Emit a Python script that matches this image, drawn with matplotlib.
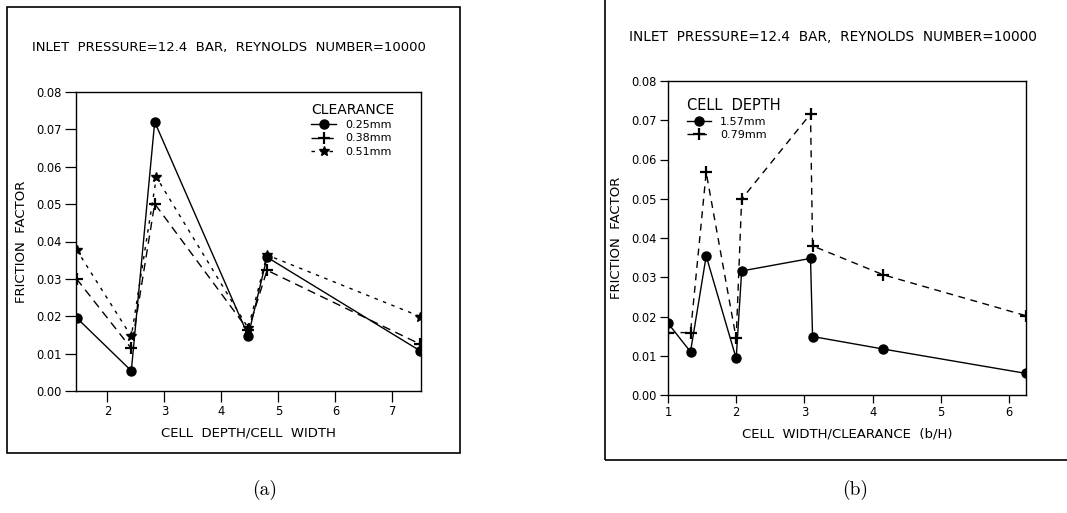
import matplotlib
matplotlib.use('Agg')
import matplotlib.pyplot as plt
from matplotlib.patches import Rectangle

# panel (a): friction factor vs cell depth / cell width
a_x = [1.46, 2.42, 2.83, 4.47, 4.80, 7.49]
a_x_star = [1.46, 2.42, 2.86, 4.47, 4.80, 7.49]
a_025 = [0.0196, 0.0054, 0.0720, 0.0148, 0.0358, 0.0107]
a_038 = [0.0300, 0.0114, 0.0501, 0.0163, 0.0323, 0.0125]
a_051 = [0.0378, 0.0146, 0.0572, 0.0168, 0.0364, 0.0199]
a_labels = ['0.25mm', '0.38mm', '0.51mm']

# panel (b): friction factor vs cell width / clearance
b_x = [1.00, 1.33, 1.56, 2.00, 2.08, 3.09, 3.12, 4.16, 6.25]
b_157 = [0.0183, 0.0110, 0.0354, 0.0093, 0.0316, 0.0348, 0.0149, 0.0117, 0.0055]
b_079 = [0.0159, 0.0159, 0.0567, 0.0144, 0.0499, 0.0716, 0.0380, 0.0306, 0.0202]
b_labels = ['1.57mm', '0.79mm']

title = 'INLET  PRESSURE=12.4  BAR,  REYNOLDS  NUMBER=10000'
yticks = [0.00, 0.01, 0.02, 0.03, 0.04, 0.05, 0.06, 0.07, 0.08]

plt.rcParams['font.family'] = ['DejaVu Sans']

W, H = 1067, 513
fig = plt.figure(figsize=(W / 100, H / 100), dpi=100)


def px_axes(x0, y0, x1, y1):
    # pixel box (top-left origin) -> figure axes
    return fig.add_axes([x0 / W, 1 - y1 / H, (x1 - x0) / W, (y1 - y0) / H])


def style(ax, ticklen):
    ax.set_ylim(0, 0.08)
    ax.set_yticks(yticks)
    ax.set_yticklabels([f'{v:.2f}' for v in yticks])
    ax.tick_params(direction='out', length=ticklen, width=0.9, labelsize=8.3, pad=2,
                   top=False, right=False)
    for s in ax.spines.values():
        s.set_linewidth(1.0)


# outer frames
fig.patches.append(Rectangle((7 / W, 1 - 453 / H), (460 - 7) / W, (453 - 7) / H,
                             transform=fig.transFigure, fill=False, lw=1.2, color='black'))
fig.patches.append(Rectangle((605 / W, 1 - 460 / H), (1070 - 605) / W, (460 + 5) / H,
                             transform=fig.transFigure, fill=False, lw=1.2, color='black'))

# ---- (a)
ax1 = px_axes(76, 92, 421, 391)
ax1.plot(a_x, a_025, color='black', lw=1.0, marker='o', ms=6.5, label=a_labels[0])
ax1.plot(a_x, a_038, color='black', lw=1.0, ls=(0, (6, 4)), marker='+', ms=8, mew=1.6,
         label=a_labels[1])
ax1.plot(a_x_star, a_051, color='black', lw=1.0, ls=(0, (2.5, 4)), marker='*', ms=7.5,
         label=a_labels[2])
ax1.set_xlim(1.45, 7.5)
ax1.set_xticks([2, 3, 4, 5, 6, 7])
style(ax1, 8)
ax1.set_xlabel('CELL  DEPTH/CELL  WIDTH', fontsize=9.5, labelpad=6)
ax1.set_ylabel('FRICTION  FACTOR', fontsize=9.5, labelpad=6)
leg1 = ax1.legend(title='CLEARANCE', frameon=False, loc='upper left',
                  bbox_to_anchor=(0.66, 0.99), fontsize=8, title_fontsize=10,
                  handlelength=2.2, labelspacing=0.3, borderpad=0.2)
leg1._legend_box.align = 'left'
fig.text(229 / W, 1 - 48 / H, title, ha='center', va='center', fontsize=9.5)

# ---- (b)
ax2 = px_axes(668, 81, 1026, 395)
ax2.plot(b_x, b_157, color='black', lw=1.0, marker='o', ms=6.5, label=b_labels[0])
ax2.plot(b_x, b_079, color='black', lw=1.0, ls=(0, (5, 4)), marker='+', ms=8, mew=1.6,
         label=b_labels[1])
ax2.set_xlim(1, 6.25)
ax2.set_xticks([1, 2, 3, 4, 5, 6])
style(ax2, 6)
ax2.set_xlabel('CELL  WIDTH/CLEARANCE  (b/H)', fontsize=9.5, labelpad=6)
ax2.set_ylabel('FRICTION  FACTOR', fontsize=9.5, labelpad=6)
leg2 = ax2.legend(title='CELL  DEPTH', frameon=False, loc='upper left',
                  bbox_to_anchor=(0.03, 0.97), fontsize=8, title_fontsize=10.5,
                  handlelength=2.2, labelspacing=0.3, borderpad=0.2)
leg2._legend_box.align = 'left'
fig.text(833 / W, 1 - 37 / H, title, ha='center', va='center', fontsize=9.8)

# captions
fig.text(265 / W, 1 - 490 / H, '(a)', ha='center', va='center', fontsize=14, family='cmr10')
fig.text(855 / W, 1 - 490 / H, '(b)', ha='center', va='center', fontsize=14, family='cmr10')

fig.savefig('out.png', dpi=100)
